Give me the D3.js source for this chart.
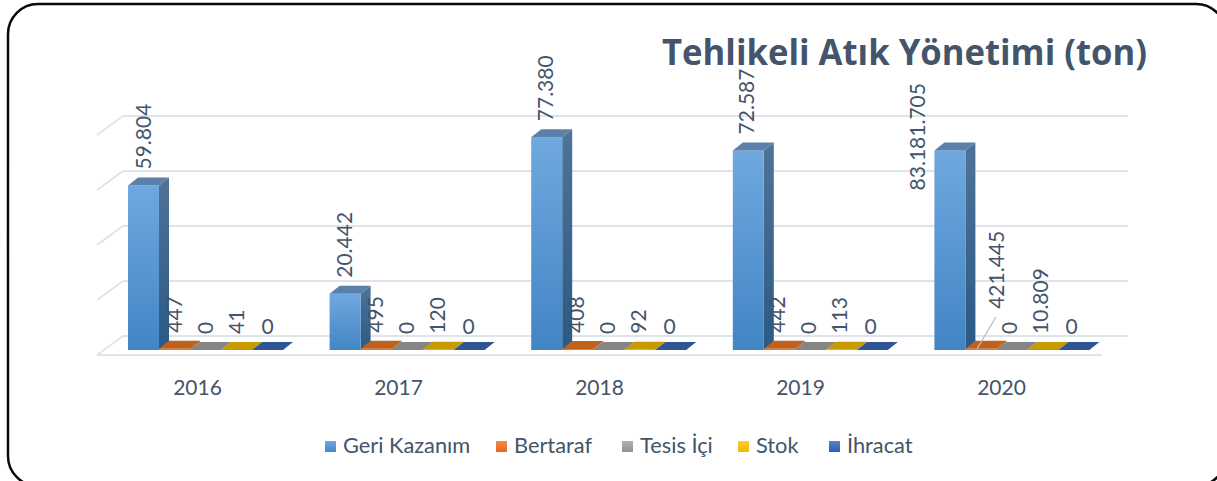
<!DOCTYPE html>
<html>
<head>
<meta charset="utf-8">
<script src="https://d3js.org/d3.v7.min.js"></script>
<style>
html, body { margin: 0; padding: 0; background: #fff; overflow: hidden; }
text { font-family: Lato, "Open Sans", sans-serif; fill: #44546a; }
</style>
</head>
<body>
<div id="chart"></div>
<script>
// Tehlikeli atik grafigi
const years = ["2016", "2017", "2018", "2019", "2020"];
const seriesNames = ["Geri Kazanım", "Bertaraf", "Tesis İçi", "Stok", "İhracat"];
const yTicks = [0, 20000, 40000, 60000, 80000];

// cubuk yukseklikleri (ton)
const geriKazanim = [59804, 20442, 77380, 72587, 72587];
const bertaraf = [447, 495, 408, 442, 421];
const tesisIci = [0, 0, 0, 0, 0];
const stok = [41, 120, 92, 113, 11];
const ihracat = [0, 0, 0, 0, 0];

// etiketler cubuktan farkli olabiliyor (2020)
const geriLabels = ["59.804", "20.442", "77.380", "72.587", "83.181.705"];
const bertarafLabels = ["447", "495", "408", "442", "421.445"];
const tesisLabels = ["0", "0", "0", "0", "0"];
const stokLabels = ["41", "120", "92", "113", "10.809"];
const ihracatLabels = ["0", "0", "0", "0", "0"];

const allValues = [geriKazanim, bertaraf, tesisIci, stok, ihracat];
const allLabels = [geriLabels, bertarafLabels, tesisLabels, stokLabels, ihracatLabels];

const colors = [
    { hi: "#70a8df", lo: "#4285c5", sideHi: "#4f7398", sideLo: "#2a5a86", top: "#5b81ab" },
    { hi: "#f4884c", lo: "#e8691a", sideHi: "#a85218", sideLo: "#a85218", top: "#c0601d" },
    { hi: "#b0b0b0", lo: "#929292", sideHi: "#707070", sideLo: "#707070", top: "#858585" },
    { hi: "#ffc83a", lo: "#f0bb00", sideHi: "#a88400", sideLo: "#a88400", top: "#c79a00" },
    { hi: "#5a82cc", lo: "#2c5cb4", sideHi: "#264a86", sideLo: "#264a86", top: "#2f5597" }
];

const svg = d3.select("#chart").append("svg");
svg.attr("width", 1217).attr("height", 481);

const defs = svg.append("defs");
colors.forEach((c, i) => {
    const front = defs.append("linearGradient").attr("id", `front${i}`)
        .attr("x1", 0).attr("y1", 0).attr("x2", 0).attr("y2", 1);
    front.append("stop").attr("offset", "0%").attr("stop-color", c.hi);
    front.append("stop").attr("offset", "100%").attr("stop-color", c.lo);
    const side = defs.append("linearGradient").attr("id", `side${i}`)
        .attr("x1", 0).attr("y1", 0).attr("x2", 0).attr("y2", 1);
    side.append("stop").attr("offset", "0%").attr("stop-color", c.sideHi);
    side.append("stop").attr("offset", "100%").attr("stop-color", c.sideLo);
});

// cerceve
svg.append("rect")
    .attr("x", 8).attr("y", 4)
    .attr("width", 1218).attr("height", 482)
    .attr("rx", 30).attr("ry", 30)
    .attr("fill", "#fff")
    .attr("stroke", "#0a0a0a")
    .attr("stroke-width", 2.5);

svg.append("text")
    .attr("x", 662).attr("y", 65)
    .attr("textLength", 485)
    .attr("lengthAdjust", "spacingAndGlyphs")
    .style("font-family", "'Open Sans', sans-serif")
    .style("font-weight", 700)
    .style("font-size", "36px")
    .text("Tehlikeli Atık Yönetimi (ton)");

// scales
const plotHeight = 220;
const y = d3.scaleLinear().domain([0, 80000]).range([0, plotHeight]);
const axisX = d3.scaleBand().domain(years).range([97, 1102]);
const groupX = d3.scaleBand().domain(years).range([97, 1105]);
const barX = d3.scaleBand().domain(seriesNames).range([31, 186]);

const gridColor = "#dfe3ea";
const wallBaseY = 336, floorY = 355, wallDx = 26;
const barBaseY = 350, depthX = 10, depthY = 8;

// izgara cizgileri
const grid = svg.append("g");
grid.selectAll("line.back")
    .data(yTicks)
    .join("line")
    .attr("class", "back")
    .attr("x1", 97 + wallDx).attr("x2", 1102 + wallDx)
    .attr("y1", d => wallBaseY - y(d)).attr("y2", d => wallBaseY - y(d))
    .attr("stroke", gridColor).attr("stroke-width", 2);
grid.selectAll("line.diag")
    .data(yTicks)
    .join("line")
    .attr("class", "diag")
    .attr("x1", 97).attr("x2", 97 + wallDx)
    .attr("y1", d => floorY - y(d)).attr("y2", d => wallBaseY - y(d))
    .attr("stroke", gridColor).attr("stroke-width", 2);
grid.append("line")
    .attr("x1", 97).attr("x2", 1102)
    .attr("y1", floorY).attr("y2", floorY)
    .attr("stroke", gridColor).attr("stroke-width", 2);

// cubuklar
const rows = [];
seriesNames.forEach((name, s) => {
    years.forEach((year, i) => {
        rows.push({ s, name, year, i, value: allValues[s][i], label: allLabels[s][i] });
    });
});

const bars = svg.append("g").selectAll("g")
    .data(rows)
    .join("g");

const x0 = d => groupX(d.year) + barX(d.name);
const yTop = d => barBaseY - y(d.value);
const w = barX.bandwidth();

bars.append("polygon")
    .attr("points", d => [
        [x0(d) + w, yTop(d)], [x0(d) + w + depthX, yTop(d) - depthY],
        [x0(d) + w + depthX, barBaseY - depthY], [x0(d) + w, barBaseY]
    ].join(" "))
    .attr("fill", d => `url(#side${d.s})`);
bars.append("rect")
    .attr("x", x0).attr("y", yTop)
    .attr("width", w).attr("height", d => y(d.value))
    .attr("fill", d => `url(#front${d.s})`);
bars.append("polygon")
    .attr("points", d => [
        [x0(d), yTop(d)], [x0(d) + w, yTop(d)],
        [x0(d) + w + depthX, yTop(d) - depthY], [x0(d) + depthX, yTop(d) - depthY]
    ].join(" "))
    .attr("fill", d => colors[d.s].top);

// elle tasinmis etiketler
const labelShift = {
    "0-2020": [-30, 56],
    "1-2020": [18, -24]
};

svg.append("g").selectAll("text")
    .data(rows)
    .join("text")
    .attr("text-anchor", d => d.s === 4 ? "middle" : "start")
    .attr("dy", "0.36em")
    .attr("transform", d => {
        const shift = labelShift[`${d.s}-${d.year}`] || [0, 0];
        const px = axisX(d.year) + barX(d.name) + w / 2 + shift[0];
        const py = yTop(d) - depthY - 8 + shift[1];
        if (d.s === 4) return `translate(${px},${py - 8})`;
        return `translate(${px},${py}) rotate(-90)`;
    })
    .style("font-size", "21px")
    .text(d => d.label);

// 2020 Bertaraf etiket cizgisi
const leaderRow = rows.find(d => d.s === 1 && d.year === "2020");
svg.append("line")
    .attr("x1", x0(leaderRow) + w / 2 - 4).attr("y1", barBaseY - 1)
    .attr("x2", x0(leaderRow) + w / 2 + 15).attr("y2", barBaseY - 33)
    .attr("stroke", "#b4bccb").attr("stroke-width", 1.3);

// x ekseni
const xAxis = svg.append("g")
    .attr("transform", "translate(0,375)")
    .call(d3.axisBottom(axisX).tickSize(0).tickPadding(5));
xAxis.select(".domain").remove();
xAxis.selectAll("text")
    .style("font-family", "Lato, 'Open Sans', sans-serif")
    .style("font-size", "21px")
    .style("fill", "#44546a");

// legend
const legendStarts = [325, 496, 622, 738, 829];
const legend = svg.append("g");
seriesNames.forEach((name, i) => {
    legend.append("rect")
        .attr("x", legendStarts[i]).attr("y", 441)
        .attr("width", 11).attr("height", 11)
        .attr("fill", `url(#front${i})`);
    legend.append("text")
        .attr("x", legendStarts[i] + 18).attr("y", 453)
        .style("font-size", "21.8px")
        .text(name);
});
</script>
</body>
</html>
